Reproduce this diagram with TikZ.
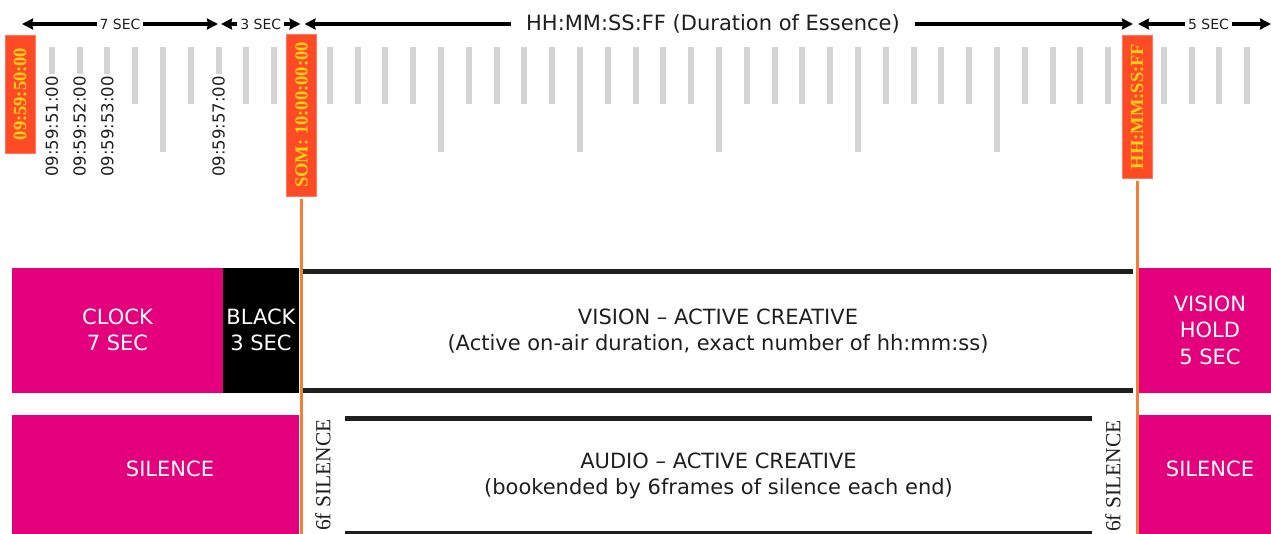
\documentclass[tikz,border=0pt]{standalone}
\usepackage{fontspec}
\setmainfont{DejaVu Sans}
\newfontfamily\slabfont{Liberation Serif}
\usetikzlibrary{arrows.meta}

\definecolor{clipmag}{HTML}{E4007C}
\definecolor{markred}{HTML}{FF4A26}
\definecolor{markgold}{HTML}{FFD21A}
\definecolor{somorange}{HTML}{EE8133}
\definecolor{tickgray}{HTML}{D4D4D4}
\definecolor{inkgray}{HTML}{1F1F1F}

\begin{document}
\begin{tikzpicture}[
    x=1pt, y=-1pt,
    magbox/.style={
        rectangle,
        fill=clipmag,
        text=white,
        align=center,
        inner sep=0pt,
        font=\fontsize{21}{26.5}\selectfont
    },
    blackbox/.style={
        magbox,
        fill=black
    },
    boxtext/.style={
        text=white,
        inner sep=0pt,
        font=\fontsize{21}{26.5}\selectfont
    },
    activebox/.style={
        rectangle,
        text=inkgray,
        align=center,
        inner sep=0pt,
        font=\fontsize{21}{26}\selectfont
    },
    barline/.style={
        line width=5pt,
        color=inkgray
    },
    marker/.style={
        rectangle,
        rotate=90,
        fill=markred,
        draw=markred!75!white,
        text=markgold,
        minimum height=30pt,
        inner sep=0pt,
        font=\slabfont\bfseries\fontsize{18.5}{20}\selectfont
    },
    somline/.style={
        line width=3pt,
        color=somorange
    },
    tickmark/.style={
        line width=6pt,
        color=tickgray
    },
    tcode/.style={
        rotate=90,
        anchor=east,
        fill=white,
        inner sep=2pt,
        text=inkgray,
        font=\fontsize{16.5}{18}\selectfont
    },
    silencetag/.style={
        rotate=90,
        anchor=east,
        inner sep=0pt,
        text=inkgray,
        font=\slabfont\fontsize{21.5}{24}\selectfont
    },
    dimarrow/.style={
        {Stealth[length=11pt,width=11pt,inset=1pt]}-{Stealth[length=11pt,width=11pt,inset=1pt]},
        line width=3.5pt,
        color=black
    },
    dimlabel/.style={
        fill=white,
        inner xsep=3pt,
        inner ysep=1pt,
        text=inkgray,
        font=\fontsize{14}{16}\selectfont
    }
]

\useasboundingbox (0,0) rectangle (1271,533);

% Second ticks
\foreach \k in {0,...,44}{
    \pgfmathsetmacro\tickx{24+27.8*\k}
    \pgfmathtruncatemacro\tickrem{mod(\k,5)}
    \ifnum\tickrem=0
        \draw[tickmark] (\tickx,47) -- (\tickx,152);
    \else
        \draw[tickmark] (\tickx,47) -- (\tickx,104);
    \fi
}

% Timecode labels
\node[tcode] (tc51) at (51.8,74) {09:59:51:00};
\node[tcode] (tc52) at (79.6,74) {09:59:52:00};
\node[tcode] (tc53) at (107.4,74) {09:59:53:00};
\node[tcode] (tc57) at (218.6,74) {09:59:57:00};

% Top dimension arrows
\coordinate (clockstart) at (22,24);
\coordinate (clockend) at (218,24);
\coordinate (blackstart) at (221,24);
\coordinate (blackend) at (300.5,24);
\coordinate (essstart) at (304.5,24);
\coordinate (essend) at (1133,24);
\coordinate (holdstart) at (1138,24);
\coordinate (holdend) at (1271,24);

\draw[dimarrow] (clockstart) -- (clockend) node[dimlabel, midway] (lab7) {7 SEC};
\draw[dimarrow] (blackstart) -- (blackend) node[dimlabel, midway] (lab3) {3 SEC};
\draw[dimarrow] (essstart) -- (essend)
    node[dimlabel, pos=0.493, inner xsep=15pt, font=\fontsize{21}{24}\selectfont] (labess) {HH:MM:SS:FF (Duration of Essence)};
\draw[dimarrow] (holdstart) -- (holdend) node[dimlabel, pos=0.53] (lab5) {5 SEC};

% Vision row
\node[magbox, minimum width=211pt, minimum height=125pt] (clock) at (117.5,330) {CLOCK\\7 SEC};
\node[blackbox, minimum width=76pt, minimum height=125pt] (black) at (261,330) {BLACK\\3 SEC};
\node[activebox, minimum width=830pt, minimum height=119pt] (vision) at (718,331) {
    VISION – ACTIVE CREATIVE\\
    (Active on-air duration, exact number of hh:mm:ss)
};
\draw[barline] (vision.north west) -- (vision.north east);
\draw[barline] (vision.south west) -- (vision.south east);
\node[magbox, minimum width=144pt, minimum height=125pt] (hold) at (1210,330) {VISION\\HOLD\\5 SEC};

% Audio row
\node[magbox, minimum width=287pt, minimum height=130pt] (silenceL) at (155.5,480) {};
\node[boxtext] (silenceLtxt) at (170,469) {SILENCE};
\node[activebox, minimum width=747pt, minimum height=114.5pt] (audio) at (718.5,476) {
    AUDIO – ACTIVE CREATIVE\\
    (bookended by 6frames of silence each end)
};
\draw[barline] (audio.north west) -- (audio.north east);
\draw[barline] (audio.south west) -- (audio.south east);
\node[magbox, minimum width=144pt, minimum height=130pt] (silenceR) at (1210,480) {};
\node[boxtext] (silenceRtxt) at (1210,469) {SILENCE};
\node[silencetag] (tagL) at (323,419) {6f SILENCE};
\node[silencetag] (tagR) at (1113,420) {6f SILENCE};

% Markers
\node[marker, minimum width=118pt] (mark50) at (20,94) {09:59:50:00};
\node[marker, minimum width=162pt] (som) at (301.5,115) {SOM: 10:00:00:00};
\node[marker, minimum width=143pt] (eom) at (1137,106.5) {HH:MM:SS:FF};

% SOM / EOM lines
\coordinate (somfoot) at (301.5,540);
\coordinate (eomfoot) at (1137,540);
\draw[somline] ([yshift=-3pt]som.west) -- (somfoot);
\draw[somline] ([yshift=-3pt]eom.west) -- (eomfoot);

\end{tikzpicture}
\end{document}
